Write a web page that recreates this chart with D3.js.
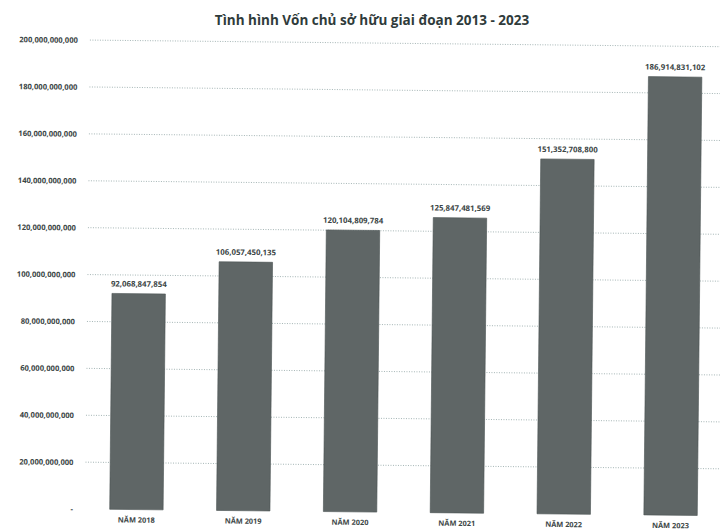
<!DOCTYPE html>
<html>
<head>
<meta charset="utf-8">
<script src="https://cdn.jsdelivr.net/npm/d3@7"></script>
<style>
  body { margin: 0; background: #fff; }
  svg { display: block; font-family: "Open Sans", "Noto Sans", sans-serif; }
</style>
</head>
<body>
<svg id="chartSvg" width="720" height="529"></svg>
<script>
// chart data
const years = ["NĂM 2018", "NĂM 2019", "NĂM 2020", "NĂM 2021", "NĂM 2022", "NĂM 2023"];
const equity = [92068847854, 106057450135, 120104809784, 125847481569, 151352708800, 186914831102];
const yTicks = [0, 20e9, 40e9, 60e9, 80e9, 100e9, 120e9, 140e9, 160e9, 180e9, 200e9];
const title = "Tình hình Vốn chủ sở hữu giai đoạn 2013 - 2023";

const data = years.map((y, i) => ({ year: y, value: equity[i] }));

const margin = { top: 40, right: -4, bottom: 20, left: 83 },
      width = 720 - margin.left - margin.right,
      height = 529 - margin.top - margin.bottom;

const svg = d3.select("#chartSvg");

// the scan is slightly tilted
const root = svg.append("g")
    .attr("transform", "rotate(0.6, 80, 509)");

const g = root.append("g")
    .attr("transform", `translate(${margin.left},${margin.top})`);

const x = d3.scaleBand()
    .domain(years)
    .range([0, width])
    .paddingInner(0.5)
    .paddingOuter(0.25);

const y = d3.scaleLinear()
    .domain([0, 200e9])
    .range([height, 0]);

const fmt = d3.format(",");

// gridlines
g.append("g")
    .selectAll("line")
    .data(yTicks.filter(d => d > 0))
    .enter().append("line")
    .attr("x1", 2)
    .attr("x2", width + 10)
    .attr("y1", d => y(d))
    .attr("y2", d => y(d))
    .attr("stroke", "#8fa3a3")
    .attr("stroke-width", 0.8)
    .attr("stroke-dasharray", "1,1.5");

// y axis labels
const yAxis = g.append("g")
    .attr("transform", "translate(-7,0)")
    .call(d3.axisLeft(y).tickValues(yTicks).tickSize(0).tickFormat(d => d === 0 ? "-" : fmt(d)));
yAxis.select(".domain").remove();
yAxis.selectAll("text")
    .attr("font-family", "'Open Sans', sans-serif")
    .style("font-size", "7.6px")
    .style("font-weight", "bold")
    .attr("fill", "#3c4646");

// bars
g.selectAll(".bar")
    .data(data)
    .enter().append("rect")
    .attr("class", "bar")
    .attr("x", d => x(d.year))
    .attr("y", d => y(d.value))
    .attr("width", x.bandwidth())
    .attr("height", d => height - y(d.value))
    .attr("fill", "#5f6666")
    .attr("stroke", "#4a5151")
    .attr("stroke-width", 0.6);

// value labels
g.selectAll(".bar-label")
    .data(data)
    .enter().append("text")
    .attr("class", "bar-label")
    .attr("x", d => x(d.year) + x.bandwidth() / 2)
    .attr("y", d => y(d.value) - 7)
    .attr("text-anchor", "middle")
    .style("font-size", "7.8px")
    .style("font-weight", "bold")
    .style("fill", "#3c4646")
    .text(d => fmt(d.value));

// x axis labels
g.selectAll(".x-label")
    .data(data)
    .enter().append("text")
    .attr("class", "x-label")
    .attr("x", d => x(d.year) + x.bandwidth() / 2)
    .attr("y", height + 13)
    .attr("text-anchor", "middle")
    .style("font-size", "7.4px")
    .style("font-weight", "bold")
    .style("fill", "#3c4646")
    .text(d => d.year);

// title
svg.append("text")
    .attr("x", 372)
    .attr("y", 25)
    .attr("text-anchor", "middle")
    .style("font-size", "13.5px")
    .style("font-weight", "bold")
    .style("fill", "#2f3b3b")
    .text(title);
</script>
</body>
</html>
